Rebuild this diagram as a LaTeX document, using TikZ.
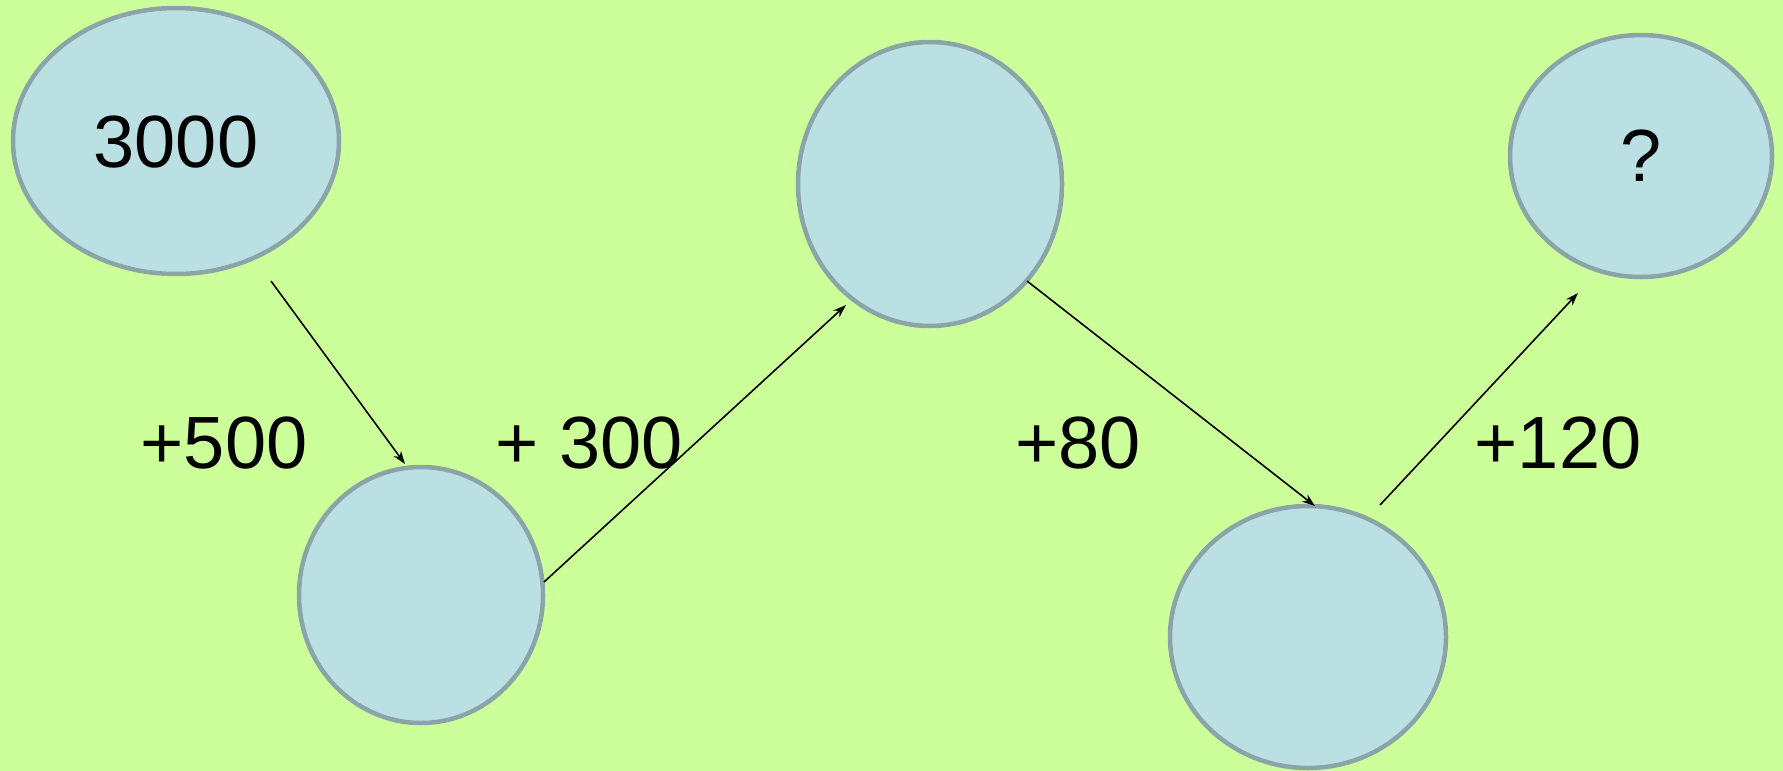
\documentclass[tikz,border=0pt]{standalone}
\usepackage{fontspec}
\setmainfont{Liberation Sans}
\usetikzlibrary{shapes.geometric,arrows.meta}
\definecolor{bgc}{HTML}{CCFF99}
\definecolor{fillc}{HTML}{BAE0E4}
\definecolor{edgec}{HTML}{8AA4A8}
\begin{document}
\begin{tikzpicture}[x=1pt,y=-1pt,
  bubble/.style={ellipse,draw=edgec,fill=fillc,line width=4.5pt,inner sep=0pt},
  lbl/.style={font=\fontsize{74}{80}\selectfont,inner sep=0pt,anchor=center},
  conn/.style={line width=1.6pt,-{Stealth[length=13pt,width=9pt]}}]
\fill[bgc] (0,0) rectangle (1783,771);
\useasboundingbox (0,0) rectangle (1783,771);
\node[bubble,minimum width=326pt,minimum height=266pt] (e1) at (176,141) {};
\node[bubble,minimum width=244pt,minimum height=256pt] (e2) at (421,595) {};
\node[bubble,minimum width=264pt,minimum height=284pt] (e3) at (930,184) {};
\node[bubble,minimum width=276pt,minimum height=262pt] (e4) at (1308,637) {};
\node[bubble,minimum width=262pt,minimum height=242pt] (e5) at (1641,156) {};
\node[lbl] (t1) at (176,142) {3000};
\node[lbl] (t5) at (1641,156) {?};
\node[lbl] (l1) at (224,443) {+500};
\node[lbl] (l2) at (589,443) {+ 300};
\node[lbl] (l3) at (1078,443) {+80};
\node[lbl] (l4) at (1558,443) {+120};
\coordinate (s1) at (271,281);
\coordinate (d1) at (405,464);
\coordinate (s2) at (544,582);
\coordinate (d2) at (846,305);
\coordinate (s3) at (1027,281);
\coordinate (d3) at (1315,506);
\coordinate (s4) at (1380,505);
\coordinate (d4) at (1578,293);
\draw[conn] (s1) -- (d1);
\draw[conn] (s2) -- (d2);
\draw[conn] (s3) -- (d3);
\draw[conn] (s4) -- (d4);
\end{tikzpicture}
\end{document}
